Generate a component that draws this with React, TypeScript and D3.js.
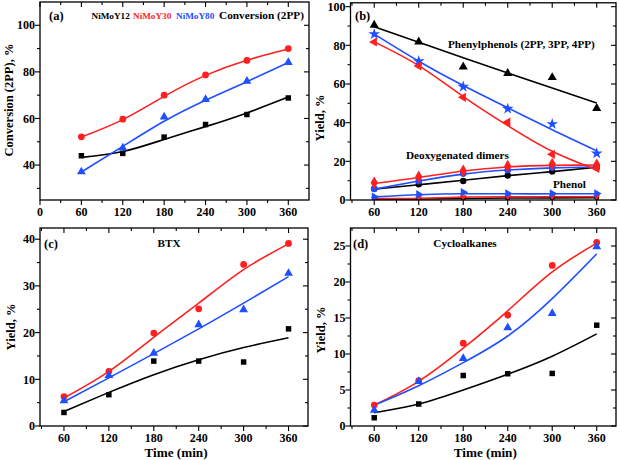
import React, { useEffect, useRef } from "react";
import * as d3 from "d3";

const times = [60, 120, 180, 240, 300, 360];

// (a) Conversion (2PP)
const convY12 = [44.0, 45.0, 52.0, 57.4, 61.7, 68.8];
const convY30 = [52.1, 59.7, 70.0, 78.7, 84.9, 90.0];
const convY80 = [37.1, 47.4, 60.7, 68.2, 76.0, 84.1];
const convFitY12 = [43.3, 45.8, 51.0, 56.5, 62.4, 69.2];
const convFitY30 = [52.0, 59.5, 69.5, 78.5, 85.0, 89.8];
const convFitY80 = [37.0, 48.0, 58.8, 67.8, 75.8, 84.0];

// (b) Yields
const ppY12 = [90.5, 81.8, 68.9, 65.5, 63.4, 47.4];
const ppY30 = [81.7, 69.3, 53.1, 40.3, 23.6, 16.3];
const ppY80 = [85.8, 71.8, 58.6, 47.2, 39.3, 24.1];
const ppFitY12 = [89.6, 81.6, 73.6, 65.7, 57.9, 50.2];
const ppFitY30 = [81.8, 69.5, 53.5, 38.5, 25.2, 15.6];
const ppFitY80 = [85.8, 71.8, 59.2, 47.7, 36.3, 25.4];

const dimY12 = [5.8, 8.1, 9.8, 12.7, 14.8, 16.8];
const dimY30 = [8.9, 12.0, 15.1, 17.5, 18.6, 18.2];
const dimY80 = [5.8, 9.8, 13.7, 15.5, 16.8, 17.2];
const dimFitY12 = [5.6, 7.9, 10.2, 12.6, 14.7, 16.9];
const dimFitY30 = [8.5, 11.6, 15.0, 17.1, 17.9, 18.1];
const dimFitY80 = [5.6, 9.8, 13.4, 15.5, 16.6, 17.1];

const phY12 = [0.3, 0.5, 0.8, 1.0, 1.1, 1.2];
const phY30 = [0.7, 0.9, 1.5, 1.7, 1.7, 1.7];
const phY80 = [1.7, 2.9, 4.0, 3.4, 3.4, 3.4];
const phFitY12 = [0.3, 0.5, 0.8, 1.0, 1.1, 1.2];
const phFitY30 = [0.7, 0.9, 1.5, 1.7, 1.7, 1.7];
const phFitY80 = [1.6, 2.7, 3.2, 3.2, 3.2, 3.2];

// (c) BTX
const btxY12 = [2.9, 6.7, 13.9, 13.9, 13.7, 20.8];
const btxY30 = [6.3, 11.7, 19.9, 25.1, 34.6, 39.1];
const btxY80 = [5.4, 10.8, 15.6, 21.7, 24.9, 32.7];
const btxFitY12 = [3.1, 7.2, 11.0, 14.2, 16.8, 18.9];
const btxFitY30 = [6.0, 11.7, 19.0, 26.3, 33.5, 39.0];
const btxFitY80 = [5.2, 10.3, 15.5, 20.8, 26.3, 32.0];

// (d) Cycloalkanes
const cycY12 = [1.15, 3.05, 7.0, 7.26, 7.3, 14.0];
const cycY30 = [2.9, 6.3, 11.5, 15.4, 22.3, 25.5];
const cycY80 = [2.2, 6.2, 9.4, 13.65, 15.65, 24.9];
const cycFitY12 = [1.85, 3.05, 5.0, 7.2, 9.7, 12.8];
const cycFitY30 = [2.9, 6.2, 10.8, 16.0, 21.4, 25.4];
const cycFitY80 = [2.9, 5.6, 8.8, 12.5, 17.7, 23.9];

const xTicksA = [0, 60, 120, 180, 240, 300, 360];
const xTicksB = [60, 120, 180, 240, 300, 360];
const yTicksA = [40, 60, 80, 100];
const yTicksB = [0, 20, 40, 60, 80, 100];
const yTicksC = [0, 10, 20, 30, 40];
const yTicksD = [0, 5, 10, 15, 20, 25];

const BLACK = "#000000";
const RED = "#ff1f1f";
const BLUE = "#1f4fff";
const FONT = "'Liberation Serif', 'Times New Roman', serif";
const TICK_FS = 12;
const ANN_FS = 11.2;

type Series = { vals: number[]; fit: number[]; color: string; shape: string; size?: number };

type Panel = {
  left: number; right: number; top: number; bottom: number;
  xDomain: [number, number]; yDomain: [number, number];
  xTicks: number[]; xMinorStep: number;
  yTicks: number[]; yMinorStep: number;
  series: Series[];
  yLabel: string; yLabelX: number; yLabelY: number;
  xLabel?: string;
};

function symbolPath(shape: string, size: number): { d: string; rot: number } {
  const s = d3.symbol();
  switch (shape) {
    case "square": return { d: s.type(d3.symbolSquare).size(size)()!, rot: 0 };
    case "circle": return { d: s.type(d3.symbolCircle).size(size)()!, rot: 0 };
    case "triangle": return { d: s.type(d3.symbolTriangle).size(size)()!, rot: 0 };
    case "triLeft": return { d: s.type(d3.symbolTriangle).size(size)()!, rot: -90 };
    case "triRight": return { d: s.type(d3.symbolTriangle).size(size)()!, rot: 90 };
    case "triDown": return { d: s.type(d3.symbolTriangle).size(size)()!, rot: 180 };
    case "star": return { d: s.type(d3.symbolStar).size(size)()!, rot: 0 };
    case "diamond": return { d: s.type(d3.symbolDiamond).size(size)()!, rot: 0 };
    default: return { d: s.type(d3.symbolCircle).size(size)()!, rot: 0 };
  }
}

function drawPanel(svg: d3.Selection<SVGSVGElement, unknown, null, undefined>, p: Panel) {
  const x = d3.scaleLinear().domain(p.xDomain).range([p.left, p.right]);
  const y = d3.scaleLinear().domain(p.yDomain).range([p.bottom, p.top]);
  const g = svg.append("g");

  const clipId = "clip" + Math.round(p.left) + "_" + Math.round(p.top);
  svg.append("clipPath").attr("id", clipId).append("rect")
    .attr("x", p.left).attr("y", p.top).attr("width", p.right - p.left).attr("height", p.bottom - p.top);

  const line = d3.line<number>()
    .x((_, i) => x(times[i]))
    .y((d) => y(d))
    .curve(d3.curveNatural);
  const plot = g.append("g").attr("clip-path", `url(#${clipId})`);
  p.series.forEach((s) => {
    plot.append("path").attr("d", line(s.fit)!).attr("fill", "none")
      .attr("stroke", s.color).attr("stroke-width", 1.6);
  });
  p.series.forEach((s) => {
    const sym = symbolPath(s.shape, s.size ?? 32);
    s.vals.forEach((v, i) => {
      plot.append("path").attr("d", sym.d)
        .attr("transform", `translate(${x(times[i])},${y(v)}) rotate(${sym.rot})`)
        .attr("fill", s.color);
    });
  });

  g.append("rect").attr("x", p.left).attr("y", p.top)
    .attr("width", p.right - p.left).attr("height", p.bottom - p.top)
    .attr("fill", "none").attr("stroke", "#000").attr("stroke-width", 1.3);

  const major = 5, minor = 3;
  const xMinor = d3.range(Math.ceil(p.xDomain[0] / p.xMinorStep) * p.xMinorStep, p.xDomain[1] + 0.001, p.xMinorStep)
    .filter((v) => !p.xTicks.includes(v) && v > p.xDomain[0] && v < p.xDomain[1]);
  const tickG = g.append("g").attr("stroke", "#000").attr("stroke-width", 1.1);
  const allX = p.xTicks.map((v) => ({ v, len: major })).concat(xMinor.map((v) => ({ v, len: minor })));
  allX.forEach(({ v, len }) => {
    const px = x(v);
    tickG.append("line").attr("x1", px).attr("x2", px).attr("y1", p.bottom).attr("y2", p.bottom + len);
    tickG.append("line").attr("x1", px).attr("x2", px).attr("y1", p.top).attr("y2", p.top + len);
  });
  p.xTicks.forEach((v) => {
    g.append("text").attr("x", x(v)).attr("y", p.bottom + 16.2)
      .attr("text-anchor", "middle").attr("font-size", TICK_FS).attr("font-weight", "bold")
      .attr("font-family", FONT).text(String(v));
  });

  const yMinor = d3.range(Math.ceil(p.yDomain[0] / p.yMinorStep) * p.yMinorStep, p.yDomain[1] + 0.001, p.yMinorStep)
    .filter((v) => !p.yTicks.some((t) => Math.abs(t - v) < 1e-6) && v > p.yDomain[0] && v < p.yDomain[1]);
  const allY = p.yTicks.map((v) => ({ v, len: major })).concat(yMinor.map((v) => ({ v, len: minor })));
  allY.forEach(({ v, len }) => {
    const py = y(v);
    tickG.append("line").attr("y1", py).attr("y2", py).attr("x1", p.left).attr("x2", p.left - len);
    tickG.append("line").attr("y1", py).attr("y2", py).attr("x1", p.right).attr("x2", p.right - len);
  });
  p.yTicks.forEach((v) => {
    g.append("text").attr("x", p.left - 5).attr("y", y(v) + 4.2)
      .attr("text-anchor", "end").attr("font-size", TICK_FS).attr("font-weight", "bold")
      .attr("font-family", FONT).text(String(v));
  });

  g.append("text").attr("transform", `translate(${p.yLabelX},${p.yLabelY}) rotate(-90)`)
    .attr("text-anchor", "middle").attr("dy", "0.35em").attr("font-size", 12.5).attr("font-weight", "bold")
    .attr("font-family", FONT).text(p.yLabel);

  if (p.xLabel) {
    g.append("text").attr("x", (p.left + p.right) / 2 + 2).attr("y", p.bottom + 31)
      .attr("text-anchor", "middle").attr("font-size", 13.2).attr("font-weight", "bold")
      .attr("font-family", FONT).text(p.xLabel);
  }
  return { x, y, g };
}

function addText(svg: any, x: number, y: number, txt: string, size: number, color = "#000", anchor = "start") {
  svg.append("text").attr("x", x).attr("y", y).attr("font-size", size).attr("font-weight", "bold")
    .attr("font-family", FONT).attr("fill", color).attr("text-anchor", anchor).text(txt);
}

export default function App() {
  const ref = useRef<SVGSVGElement>(null);
  useEffect(() => {
    const svg = d3.select(ref.current!);
    svg.selectAll("*").remove();
    svg.append("rect").attr("width", 620).attr("height", 460).attr("fill", "#fff");

    const trio = (a: number[], fa: number[], b: number[], fb: number[], c: number[], fc: number[]): Series[] => [
      { vals: a, fit: fa, color: BLACK, shape: "square", size: 30 },
      { vals: b, fit: fb, color: RED, shape: "circle", size: 36 },
      { vals: c, fit: fc, color: BLUE, shape: "triangle", size: 34 },
    ];

    // (a)
    drawPanel(svg, {
      left: 40, right: 309, top: 2, bottom: 200,
      xDomain: [0, 390], yDomain: [25, 110],
      xTicks: xTicksA, xMinorStep: 30, yTicks: yTicksA, yMinorStep: 10,
      series: trio(convY12, convFitY12, convY30, convFitY30, convY80, convFitY80),
      yLabel: "Conversion (2PP), %", yLabelX: 9, yLabelY: 100,
    });
    addText(svg, 49, 19.5, "(a)", 12.5);
    addText(svg, 91.5, 18.5, "NiMoY12", 9.2, BLACK);
    addText(svg, 133, 18.5, "NiMoY30", 9.2, RED);
    addText(svg, 176, 18.5, "NiMoY80", 9.2, BLUE);
    addText(svg, 219, 19, "Conversion (2PP)", 11.3, BLACK);

    // (b)
    drawPanel(svg, {
      left: 350.5, right: 616, top: 2.8, bottom: 200,
      xDomain: [28, 386], yDomain: [0, 102],
      xTicks: xTicksB, xMinorStep: 30, yTicks: yTicksB, yMinorStep: 10,
      series: [
        { vals: phY12, fit: phFitY12, color: BLACK, shape: "circle", size: 20 },
        { vals: phY30, fit: phFitY30, color: RED, shape: "triDown", size: 20 },
        { vals: phY80, fit: phFitY80, color: BLUE, shape: "triRight", size: 32 },
        { vals: dimY12, fit: dimFitY12, color: BLACK, shape: "circle", size: 32 },
        { vals: dimY80, fit: dimFitY80, color: BLUE, shape: "circle", size: 36 },
        { vals: dimY30, fit: dimFitY30, color: RED, shape: "diamond", size: 46 },
        { vals: ppY12, fit: ppFitY12, color: BLACK, shape: "triangle", size: 36 },
        { vals: ppY80, fit: ppFitY80, color: BLUE, shape: "star", size: 42 },
        { vals: ppY30, fit: ppFitY30, color: RED, shape: "triLeft", size: 36 },
      ],
      yLabel: "Yield, %", yLabelX: 320, yLabelY: 118,
    });
    addText(svg, 355, 19.5, "(b)", 12.5);
    addText(svg, 448, 48, "Phenylphenols (2PP, 3PP, 4PP)", ANN_FS);
    addText(svg, 406, 158.5, "Deoxygenated dimers", ANN_FS);
    addText(svg, 553, 187.5, "Phenol", ANN_FS);

    // (c)
    drawPanel(svg, {
      left: 40, right: 308, top: 228, bottom: 426,
      xDomain: [28, 386], yDomain: [0, 42.4],
      xTicks: xTicksB, xMinorStep: 30, yTicks: yTicksC, yMinorStep: 5,
      series: trio(btxY12, btxFitY12, btxY30, btxFitY30, btxY80, btxFitY80),
      yLabel: "Yield, %", yLabelX: 11, yLabelY: 327, xLabel: "Time (min)",
    });
    addText(svg, 44, 247.5, "(c)", 12.5);
    addText(svg, 169, 247, "BTX", ANN_FS, "#000", "middle");

    // (d)
    drawPanel(svg, {
      left: 350.5, right: 616, top: 228, bottom: 426,
      xDomain: [28, 386], yDomain: [0, 27.5],
      xTicks: xTicksB, xMinorStep: 30, yTicks: yTicksD, yMinorStep: 2.5,
      series: trio(cycY12, cycFitY12, cycY30, cycFitY30, cycY80, cycFitY80),
      yLabel: "Yield, %", yLabelX: 321, yLabelY: 330, xLabel: "Time (min)",
    });
    addText(svg, 353, 247.5, "(d)", 12.5);
    addText(svg, 465, 247, "Cycloalkanes", ANN_FS, "#000", "middle");
  }, []);
  return (
    <svg ref={ref} width={620} height={460} style={{ position: "absolute", left: 0, top: 0 }} />
  );
}
